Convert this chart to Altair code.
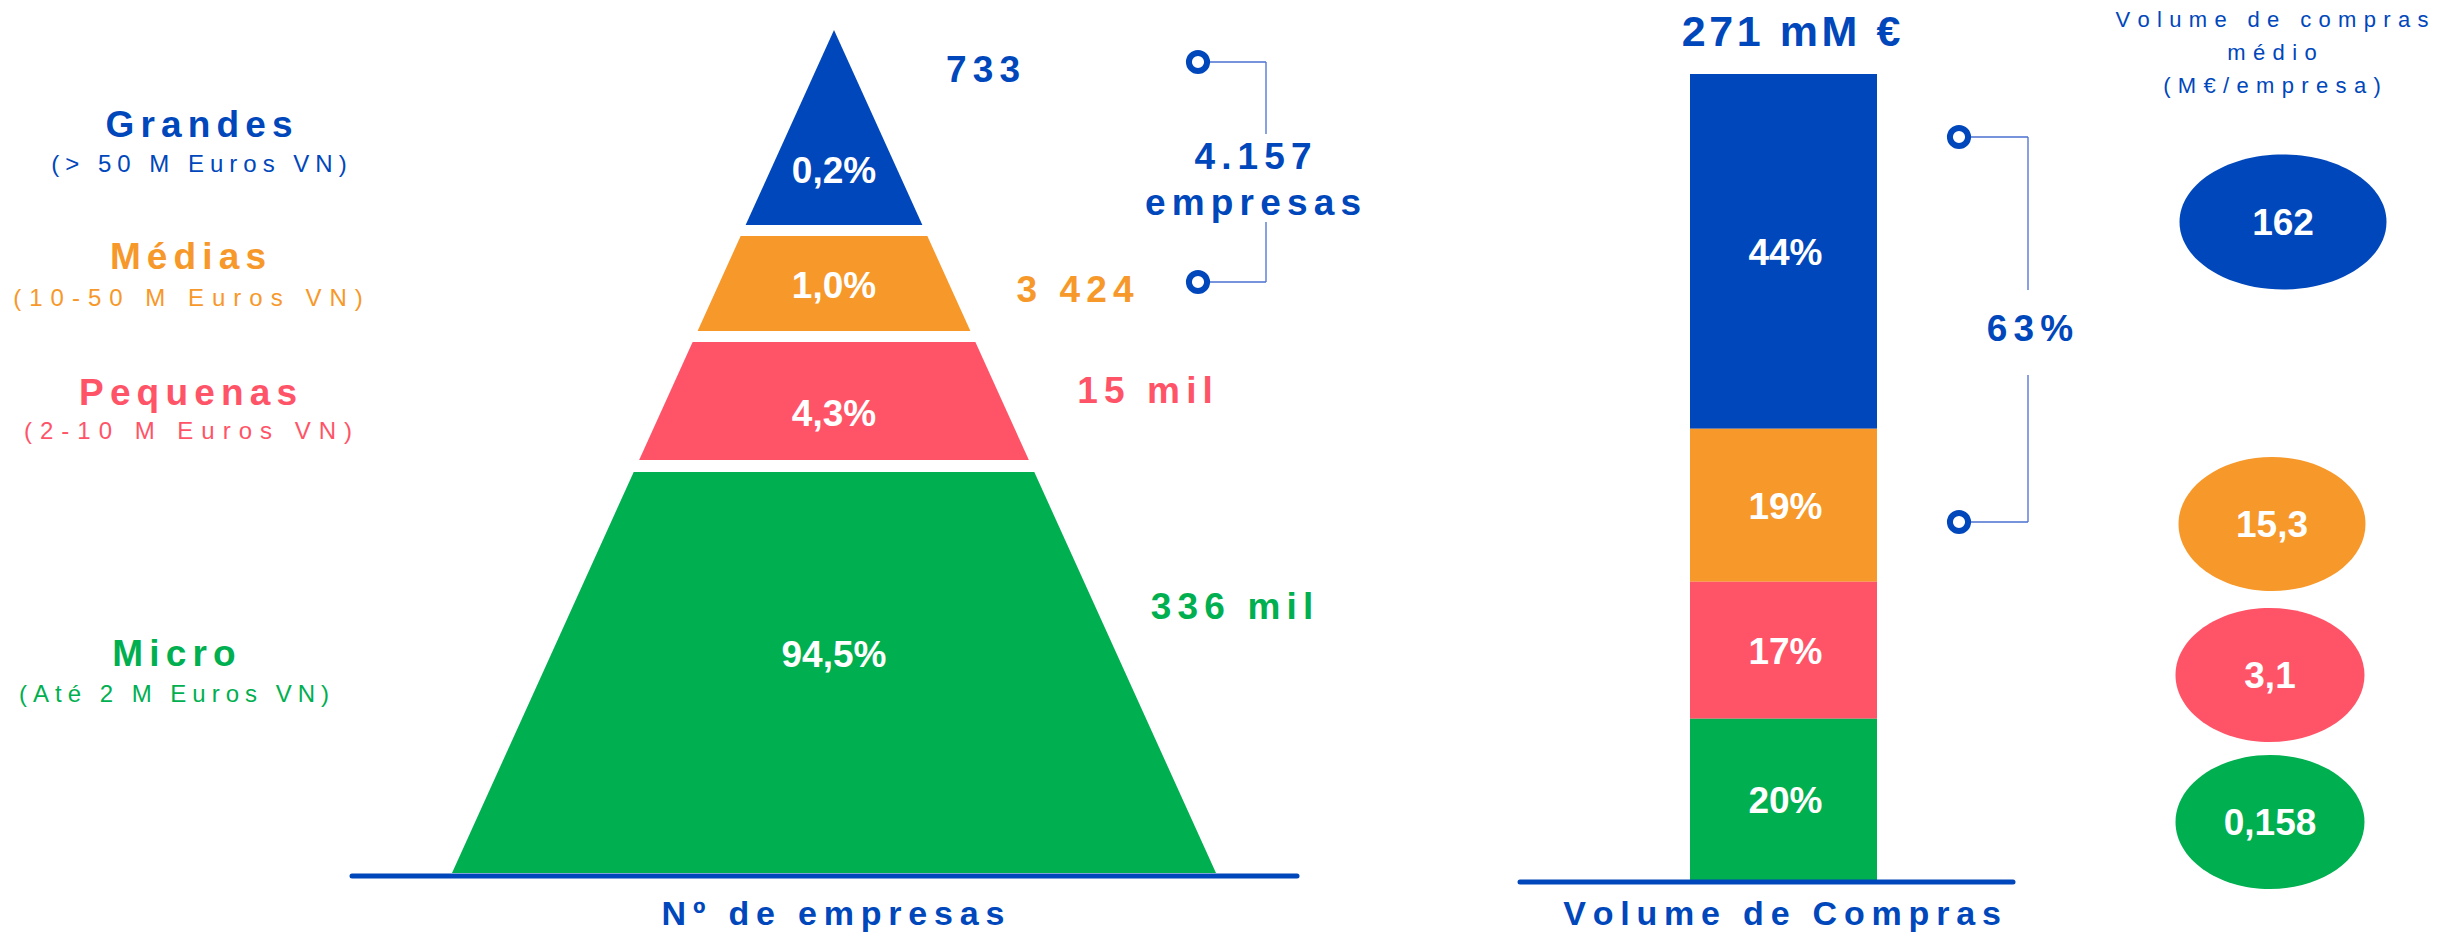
import altair as alt
import pandas as pd

# ------------------------------------------------------------------ data
segments = ["Grandes", "Médias", "Pequenas", "Micro"]
segment_ranges = ["(> 50 M Euros VN)", "(10-50 M Euros VN)", "(2-10 M Euros VN)", "(Até 2 M Euros VN)"]
share_companies = ["0,2%", "1,0%", "4,3%", "94,5%"]
n_companies = ["733", "3 424", "15 mil", "336 mil"]
purchase_share = [44, 19, 17, 20]
avg_purchase = ["162", "15,3", "3,1", "0,158"]
seg_colors = ["#0047BB", "#F7982A", "#FF5468", "#00AF50"]
total_purchases = "271 mM €"
big_medium_count = "4.157\nempresas"
big_medium_share = "63%"
title_left = "Nº de empresas"
title_right = "Volume de Compras"
avg_title = "Volume de compras\nmédio\n(M€/empresa)"

# ------------------------------------------------------------------ layout (page pixels)
W, H = 2446, 926
XS = alt.Scale(domain=[8, 8 + W], nice=False, zero=False)
YS = alt.Scale(domain=[8 + H, 8], nice=False, zero=False)
BLUE = "#0047BB"
LINE = "#4A6FCF"
FONT = "Liberation Sans, Arial, sans-serif"

pyr_cx, apex_y, base_y, base_half = 834, 30, 873, 382
band_y = [(30, 225), (236, 331), (342, 460), (472, 873)]
pct_y = [170, 285, 413, 654]
seg_x = [199, 188, 188, 174]
seg_title_y = [126, 258, 394, 655]
seg_sub_y = [165, 299, 432, 695]
# letter spacing of the range labels: three-per-em / four-per-em spaces
seg_sub_sp = ["\u2005", "\u2004", "\u2004", "\u2005"]
count_xy = [(983, 71), (1075, 291), (1145, 392), (1232, 608)]
bar_x0, bar_x1, bar_bottom, bar_top = 1690, 1877, 880, 74
ell_xy = [(2283, 222), (2272, 524), (2270, 675), (2270, 822)]
ell_wh = [(207, 135), (187, 134), (189, 134), (189, 134)]


def spaced(s, sp):
    return "\n".join(sp.join(list(line)) for line in s.split("\n"))


SP_BOLD = "\u2006"   # ~0.17em letter spacing
SP_TITLE = "\u2009"  # ~0.2em
SP_REG = "\u2004"    # ~0.33em
SP_HAIR = "\u200a"


def X(f):
    return alt.X(f"{f}:Q", scale=XS, axis=None)


def Y(f):
    return alt.Y(f"{f}:Q", scale=YS, axis=None)


def text_layer(df, size, weight="bold", line_height=None, dy=0):
    kw = dict(font=FONT, fontSize=size, fontWeight=weight, align="center", baseline="middle", dy=dy)
    if line_height:
        kw.update(lineBreak="\n", lineHeight=line_height)
    return alt.Chart(df).mark_text(**kw).encode(
        x=X("x"), y=Y("y"), text="text:N", color=alt.Color("color:N", scale=None)
    )


# ------------------------------------------------------------------ pyramid
rows = []
for seg, col, (t, b) in zip(segments, seg_colors, band_y):
    for yy in (t, b):
        hw = base_half * (yy - apex_y) / (base_y - apex_y)
        rows.append(dict(seg=seg, y=yy, xl=pyr_cx - hw, xr=pyr_cx + hw, color=col))
pyr = alt.Chart(pd.DataFrame(rows)).mark_area(orient="horizontal").encode(
    y=Y("y"), x=X("xl"), x2="xr:Q", detail="seg:N", color=alt.Color("color:N", scale=None)
)

pyr_pct = text_layer(pd.DataFrame(dict(x=[pyr_cx] * 4, y=pct_y, text=share_companies, color=["white"] * 4)), 37, dy=2)

seg_titles = text_layer(pd.DataFrame(dict(x=seg_x, y=seg_title_y,
                                          text=[spaced(s, SP_BOLD) for s in segments], color=seg_colors)), 37)
seg_subs = text_layer(pd.DataFrame(dict(x=seg_x, y=seg_sub_y,
                                        text=[spaced(s, sp) for s, sp in zip(segment_ranges, seg_sub_sp)],
                                        color=seg_colors)), 24, weight="normal")

counts = text_layer(pd.DataFrame(dict(x=[p[0] for p in count_xy], y=[p[1] for p in count_xy],
                                      text=[spaced(s, SP_BOLD) for s in n_companies], color=seg_colors)), 37)

# ------------------------------------------------------------------ stacked bar
bar_df = pd.DataFrame(dict(seg=segments, pct=purchase_share, color=seg_colors, order=[4, 3, 2, 1]))
BS = alt.Scale(domain=[0, 100], range=[bar_bottom - 8, bar_top - 8], nice=False, zero=False)
bar_base = alt.Chart(bar_df).transform_stack(
    stack="pct", groupby=[], as_=["p0", "p1"], sort=[alt.SortField("order", order="ascending")]
).transform_calculate(mid="(datum.p0 + datum.p1) / 2", label="datum.pct + '%'")
bar = bar_base.mark_bar().encode(
    x=alt.value(bar_x0 - 8), x2=alt.value(bar_x1 - 8),
    y=alt.Y("p0:Q", scale=BS, axis=None), y2="p1:Q",
    color=alt.Color("color:N", scale=None),
)
bar_lbl = bar_base.mark_text(font=FONT, fontSize=37, fontWeight="bold", color="white", dy=3).encode(
    x=alt.value((bar_x0 + bar_x1) / 2 - 8 + 2),
    y=alt.Y("mid:Q", scale=BS, axis=None), text="label:N",
)

# ------------------------------------------------------------------ ellipses
ell_df = pd.DataFrame(dict(
    x=[p[0] for p in ell_xy], y=[p[1] for p in ell_xy],
    shape=[f"M -1 0 A 1 {h / w:.3f} 0 1 0 1 0 A 1 {h / w:.3f} 0 1 0 -1 0 Z" for w, h in ell_wh],
    size=[w * w for w, h in ell_wh], color=seg_colors,
))
ells = alt.Chart(ell_df).mark_point(filled=True, opacity=1, strokeWidth=0).encode(
    x=X("x"), y=Y("y"), shape=alt.Shape("shape:N", scale=None),
    size=alt.Size("size:Q", scale=None), color=alt.Color("color:N", scale=None),
)
ell_lbl = text_layer(pd.DataFrame(dict(x=[p[0] for p in ell_xy], y=[p[1] for p in ell_xy],
                                       text=avg_purchase, color=["white"] * 4)), 37, dy=2)

# ------------------------------------------------------------------ brackets and base lines
rules = pd.DataFrame(dict(
    x=[1198, 1198, 1266, 1266, 1959, 1959, 2028, 2028],
    x2=[1266, 1266, 1266, 1266, 2028, 2028, 2028, 2028],
    y=[62, 282, 62, 222, 137, 522, 137, 375],
    y2=[62, 282, 134, 282, 137, 522, 290, 522],
))
bracket = alt.Chart(rules).mark_rule(color=LINE, strokeWidth=1.3).encode(
    x=X("x"), x2="x2:Q", y=Y("y"), y2="y2:Q"
)
dots = alt.Chart(pd.DataFrame(dict(x=[1198, 1198, 1959, 1959], y=[62, 282, 137, 522]))).mark_point(
    shape="circle", size=330, fill="white", filled=False, stroke=BLUE, strokeWidth=6, opacity=1
).encode(x=X("x"), y=Y("y"))

bases = alt.Chart(pd.DataFrame(dict(x=[352, 1520], x2=[1297, 2013], y=[876, 882]))).mark_rule(
    color=BLUE, strokeWidth=5, strokeCap="round"
).encode(x=X("x"), x2="x2:Q", y=Y("y"))

# ------------------------------------------------------------------ other texts
blue_texts = text_layer(pd.DataFrame(dict(
    x=[1253, 2030], y=[158, 330],
    text=[spaced(big_medium_count, SP_BOLD), spaced(big_medium_share, SP_BOLD)],
    color=[BLUE, BLUE])), 37, line_height=46)
total_txt = text_layer(pd.DataFrame(dict(x=[1791], y=[33], text=[spaced(total_purchases, SP_HAIR)],
                                         color=[BLUE])), 43)
titles = text_layer(pd.DataFrame(dict(x=[833, 1782], y=[915, 915],
                                      text=[spaced(title_left, SP_TITLE), spaced(title_right, SP_TITLE)],
                                      color=[BLUE, BLUE])), 34)
avg_hdr = text_layer(pd.DataFrame(dict(x=[2272], y=[20], text=[spaced(avg_title, SP_REG)], color=[BLUE])),
                     22, weight="normal", line_height=33)

chart = alt.layer(
    pyr, pyr_pct, seg_titles, seg_subs, counts,
    bar, bar_lbl, ells, ell_lbl,
    bracket, dots, bases, blue_texts, total_txt, titles, avg_hdr,
).resolve_scale(x="independent", y="independent").properties(
    width=W, height=H, padding=0, autosize=alt.AutoSizeParams(type="none")
).configure_view(strokeWidth=0)

chart.save("out.html", embed_options={"renderer": "svg", "actions": False})
